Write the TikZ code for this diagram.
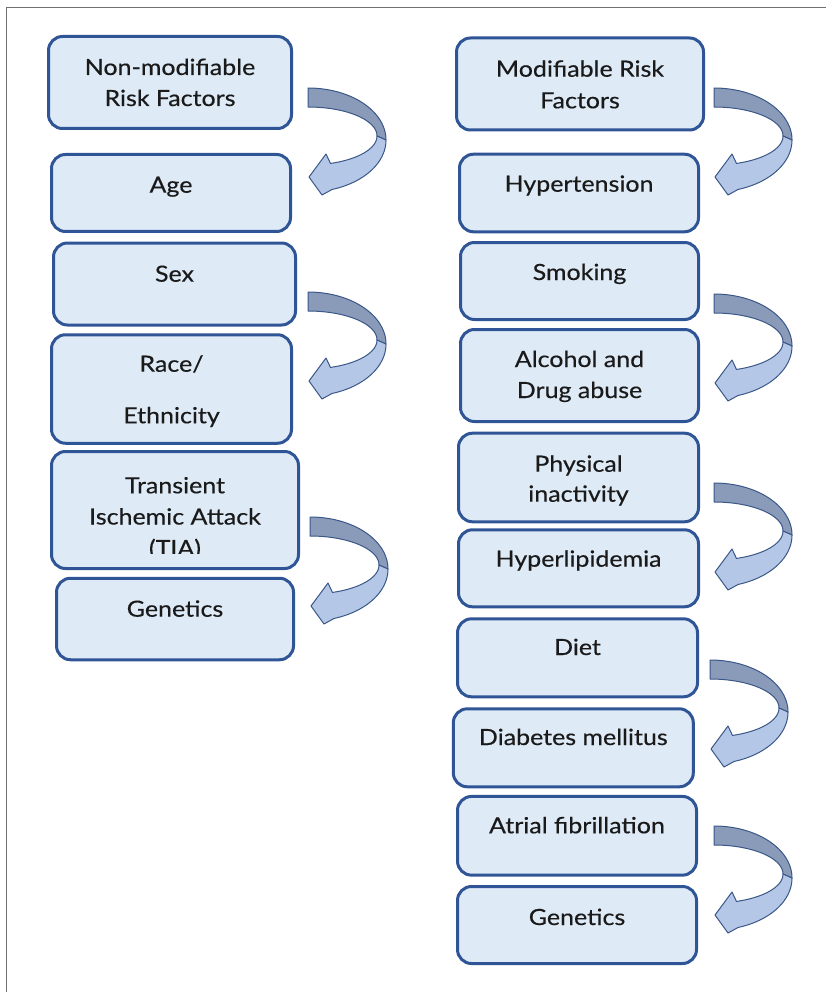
\documentclass[tikz,border=0pt]{standalone}
\usepackage{fontspec}
\setmainfont{Lato}[FakeStretch=1.12, FakeBold=0.35]
\definecolor{boxfill}{HTML}{DEEAF6}
\definecolor{boxedge}{HTML}{2F5597}
\definecolor{arrdark}{HTML}{8A9BBA}
\definecolor{arrlight}{HTML}{B4C7E7}
\definecolor{arredge}{HTML}{3A5788}
\definecolor{framegray}{HTML}{707070}
\definecolor{txtcol}{HTML}{1A1A1A}
\tikzset{
  riskbox/.style={draw=boxedge, fill=boxfill, line width=3pt, rounded corners=14pt, inner sep=0pt},
  txt/.style={anchor=base, inner sep=0pt, text=txtcol, font=\fontsize{22.3}{31}\selectfont},
  curvarr/.pic={
    \filldraw[fill=arrdark, draw=arredge, line width=1pt, line join=round]
      plot[domain=-90:0, samples=40] ({78*cos(\x)},{52+52*sin(\x)})
      -- plot[domain=0:-90, samples=40] ({69*cos(\x)},{48+29*sin(\x)}) -- cycle;
    \filldraw[fill=arrlight, draw=arredge, line width=1pt, line join=round]
      plot[domain=0:72, samples=40] ({78*cos(\x)},{52+52*sin(\x)})
      -- (14,107) -- (1,89) -- (18,66)
      -- plot[domain=71:0, samples=40] ({69*cos(\x)},{48+29*sin(\x)}) -- cycle;
  }
}
\begin{document}
\begin{tikzpicture}[x=1pt, y=-1pt]
\useasboundingbox (0,0) rectangle (826,992);
% frame
\draw[framegray, line width=1.6pt] (6.5,1000) -- (6.5,7.5) -- (830,7.5);

% ---- left column ----
\node[riskbox, minimum width=243pt, minimum height=92pt] (L1) at (170,82.5) {};
\node[txt] (L1a) at (170,75) {Non-modifiable};
\node[txt] (L1b) at (170,106) {Risk Factors};

\node[riskbox, minimum width=239pt, minimum height=77pt] (L2) at (171,193) {};
\node[txt] (L2a) at (171,192.7) {Age};

\node[riskbox, minimum width=242pt, minimum height=82pt] (L3) at (174.5,284) {};
\node[txt] (L3a) at (174.5,281.7) {Sex};

\node[riskbox, minimum width=240pt, minimum height=108.5pt] (L4) at (171.5,389) {};
\node[txt] (L4a) at (171.5,371.7) {Race/};
\node[txt] (L4b) at (171.5,423.3) {Ethnicity};

\node[riskbox, minimum width=247pt, minimum height=117pt] (L5) at (175,510) {};
\node[txt] (L5a) at (175,493.3) {Transient};
\node[txt] (L5b) at (175,524.5) {Ischemic Attack};
\begin{scope}
  \clip (40,440) rectangle (310,553);
  \node[txt] (L5c) at (175,556) {(TIA)};
\end{scope}

\node[riskbox, minimum width=237pt, minimum height=81.5pt] (L6) at (175,619) {};
\node[txt] (L6a) at (175,616.7) {Genetics};

% ---- right column ----
\node[riskbox, minimum width=247pt, minimum height=92pt] (R1) at (580,84) {};
\node[txt] (R1a) at (580,76.7) {Modifiable Risk};
\node[txt] (R1b) at (580,108.3) {Factors};

\node[riskbox, minimum width=239pt, minimum height=77.6pt] (R2) at (579,193) {};
\node[txt] (R2a) at (579,191.7) {Hypertension};

\node[riskbox, minimum width=238pt, minimum height=77pt] (R3) at (579.5,281) {};
\node[txt] (R3a) at (579.5,280) {Smoking};

\node[riskbox, minimum width=238pt, minimum height=92pt] (R4) at (579.5,375.5) {};
\node[txt] (R4a) at (579.5,367) {Alcohol and};
\node[txt] (R4b) at (579.5,398) {Drug abuse};

\node[riskbox, minimum width=240pt, minimum height=88.6pt] (R5) at (578.5,477.5) {};
\node[txt] (R5a) at (578.5,471.7) {Physical};
\node[txt] (R5b) at (578.5,501.7) {inactivity};

\node[riskbox, minimum width=240pt, minimum height=77pt] (R6) at (578.5,568.3) {};
\node[txt] (R6a) at (578.5,566.7) {Hyperlipidemia};

\node[riskbox, minimum width=240pt, minimum height=78pt] (R7) at (577.5,657.8) {};
\node[txt] (R7a) at (577.5,655) {Diet};

\node[riskbox, minimum width=240pt, minimum height=78pt] (R8) at (573.3,747.8) {};
\node[txt] (R8a) at (573.3,745) {Diabetes mellitus};

\node[riskbox, minimum width=239pt, minimum height=78.7pt] (R9) at (577,835.8) {};
\node[txt] (R9a) at (577,833.3) {Atrial fibrillation};

\node[riskbox, minimum width=239pt, minimum height=77pt] (R10) at (577,925) {};
\node[txt] (R10a) at (577,925) {Genetics};

% ---- curved arrows ----
\pic at (308,88) {curvarr};
\pic at (308,292) {curvarr};
\pic at (310,517) {curvarr};
\pic at (714,88) {curvarr};
\pic at (714,294) {curvarr};
\pic at (714,483) {curvarr};
\pic at (710,660) {curvarr};
\pic at (714,826) {curvarr};
\end{tikzpicture}
\end{document}
